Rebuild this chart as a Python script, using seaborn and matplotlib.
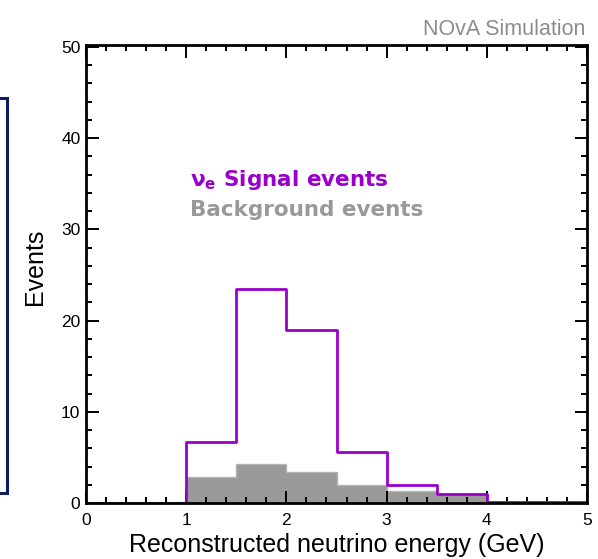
import numpy as np
import pandas as pd
import matplotlib
matplotlib.use("Agg")
import matplotlib.pyplot as plt
import matplotlib.patches as mpatches
from matplotlib.ticker import MultipleLocator
import seaborn as sns

# ---- data ----
bin_edges = [0.0, 0.5, 1.0, 1.5, 2.0, 2.5, 3.0, 3.5, 4.0, 4.5, 5.0]
bin_centers = [0.25, 0.75, 1.25, 1.75, 2.25, 2.75, 3.25, 3.75, 4.25, 4.75]
signal_events = [0.02, 0.02, 6.7, 23.5, 19.0, 5.6, 2.0, 1.0, 0.15, 0.08]
background_events = [0.0, 0.0, 2.85, 4.3, 3.45, 2.0, 1.35, 1.0, 0.0, 0.0]
x_ticks = [0, 1, 2, 3, 4, 5]
y_ticks = [0, 10, 20, 30, 40, 50]

sns.set_theme(style="ticks")
plt.rcParams['font.family'] = ['Liberation Sans', 'DejaVu Sans']
plt.rcParams['text.color'] = 'black'
plt.rcParams['axes.labelcolor'] = 'black'
plt.rcParams['xtick.labelcolor'] = 'black'
plt.rcParams['ytick.labelcolor'] = 'black'

SIG_COLOR = "#9a00cc"
BG_COLOR = "#999999"

fig = plt.figure(figsize=(5.98, 5.59), dpi=100)
ax = fig.add_axes([86/598, 56/559, 501/598, 458/559])

df_bg = pd.DataFrame({"E": bin_centers, "w": background_events})
df_sig = pd.DataFrame({"E": bin_centers, "w": signal_events})

sns.histplot(data=df_bg, x="E", weights="w", bins=bin_edges, element="step",
             fill=True, color=BG_COLOR, alpha=1.0, edgecolor="#b4b4b4",
             linewidth=1.0, ax=ax, zorder=1)
sns.histplot(data=df_sig, x="E", weights="w", bins=bin_edges, element="step",
             fill=False, color=SIG_COLOR, linewidth=2.0, ax=ax, zorder=3)

ax.set_xlim(0, 5)
ax.set_ylim(0, 50.2)
ax.set_xticks(x_ticks)
ax.set_yticks(y_ticks)
ax.xaxis.set_minor_locator(MultipleLocator(0.2))
ax.yaxis.set_minor_locator(MultipleLocator(2))
ax.tick_params(which="both", direction="in", top=True, right=True,
               width=1.4, color="black", labelcolor="black", labelsize=12.5)
ax.tick_params(which="major", length=9)
ax.tick_params(which="minor", length=4.5)
ax.tick_params(axis="y", pad=4)
ax.tick_params(axis="x", pad=7)
for s in ax.spines.values():
    s.set_linewidth(2.0)
    s.set_edgecolor("black")
    s.set_zorder(6)
ax.set_axisbelow(False)

ax.set_xlabel("Reconstructed neutrino energy (GeV)", fontsize=18, labelpad=4,
              color="black")
ax.set_ylabel("Events", fontsize=18, color="black")
ax.yaxis.set_label_coords(-0.078, 0.515)

ax.text(0.997, 1.012, "NOvA Simulation", transform=ax.transAxes, ha="right",
        va="bottom", fontsize=15.5, color="#8c8c8c")

ax.text(1.04, 34.8, r"$\mathregular{\nu_e}$ Signal events", fontsize=15.5,
        fontweight="bold", color=SIG_COLOR, va="baseline", ha="left",
        family=["DejaVu Sans"])
ax.text(1.04, 31.45, "Background events", fontsize=15.5, fontweight="bold",
        color=BG_COLOR, va="baseline", ha="left",
        family=["DejaVu Sans"])

# leftover frame edge at far left of the canvas
rect = mpatches.Rectangle((-20/598, 66/559), 26.5/598, 395/559, fill=False,
                          edgecolor="#0b1f5c", linewidth=2.2,
                          transform=fig.transFigure, clip_on=False)
fig.patches.append(rect)

fig.savefig("out.png", dpi=100)
